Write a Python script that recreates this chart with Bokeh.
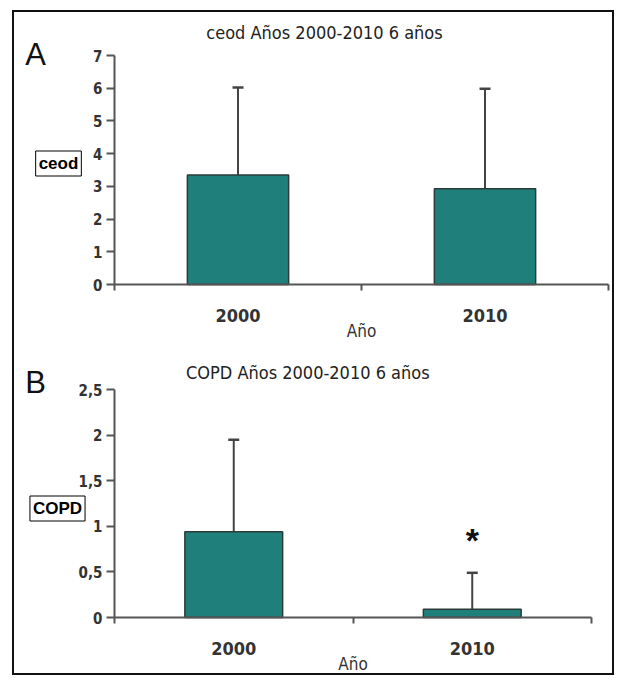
from bokeh.plotting import figure
from bokeh.models import (Range1d, FixedTicker, Label, Whisker, TeeHead,
                          ColumnDataSource, LinearAxis)
from bokeh.layouts import column
from bokeh.embed import file_html
from bokeh.resources import INLINE

# ---- data ----
years = ["2000", "2010"]
ceod_mean = [3.35, 2.93]
ceod_upper = [6.02, 5.98]
copd_mean = [0.94, 0.09]
copd_upper = [1.95, 0.49]
ceod_ticks = [0, 1, 2, 3, 4, 5, 6, 7]
ceod_tick_labels = ["0", "1", "2", "3", "4", "5", "6", "7"]
copd_ticks = [0, 0.5, 1, 1.5, 2, 2.5]
copd_tick_labels = ["0", "0,5", "1", "1,5", "2", "2,5"]
copd_sig = ["", "*"]

BAR = "#1f807b"
AX = "#555555"
TXT = "#333333"
FONT = "DejaVu Sans Condensed, DejaVu Sans"
W = 598


def panel(letter, title, ylabel, means, uppers, ticks, tick_labels, ymax,
          h, box, lab_pos, sig=None):
    # box: plot-area pixel box inside the canvas (left, right, top, bottom)
    L, R, T, B = box
    nx = len(years)
    kx = nx / (R - L)
    ky = ymax / (B - T)
    xr = Range1d(-L * kx, nx + (W - R) * kx)
    yr = Range1d(-(h - B) * ky, ymax + T * ky)

    xc = [i + 0.5 for i in range(nx)]
    src = ColumnDataSource(dict(x=xc, top=means, upper=uppers, lower=means))
    p = figure(width=W, height=h, output_backend="svg", toolbar_location=None,
               x_range=xr, y_range=yr, min_border=0,
               x_axis_location=None, y_axis_location=None,
               background_fill_color="white", border_fill_color="white")
    p.outline_line_color = None
    p.grid.visible = False

    p.vbar(x="x", top="top", width=0.41, source=src, fill_color=BAR,
           line_color="#2b3b3a", line_width=1.5)
    w = Whisker(base="x", upper="upper", lower="lower", source=src,
                line_color="#444444", line_width=2,
                lower_head=None,
                upper_head=TeeHead(size=11, line_color="#444444", line_width=2.5))
    p.add_layout(w)

    xa = LinearAxis(fixed_location=0, bounds=(0, nx))
    xa.ticker = FixedTicker(ticks=xc, minor_ticks=list(range(nx + 1)))
    xa.major_label_overrides = {x: y for x, y in zip(xc, years)}
    xa.major_tick_line_color = None
    xa.major_tick_out = 0
    xa.major_tick_in = 0
    xa.minor_tick_out = 6
    xa.minor_tick_in = 0
    xa.minor_tick_line_color = AX
    xa.minor_tick_line_width = 2
    xa.axis_line_color = AX
    xa.axis_line_width = 2
    xa.major_label_standoff = 18
    xa.major_label_text_font = FONT
    xa.major_label_text_font_style = "bold"
    xa.major_label_text_font_size = "18px"
    xa.major_label_text_color = TXT
    xa.axis_label = "Año"
    xa.axis_label_standoff = -4
    xa.axis_label_text_font = FONT
    xa.axis_label_text_font_style = "normal"
    xa.axis_label_text_font_size = "17px"
    xa.axis_label_text_color = TXT
    p.add_layout(xa, "below")

    ya = LinearAxis(fixed_location=0, bounds=(0, ymax))
    ya.ticker = FixedTicker(ticks=ticks)
    ya.major_label_overrides = {t: l for t, l in zip(ticks, tick_labels)}
    ya.minor_tick_line_color = None
    ya.major_tick_out = 8
    ya.major_tick_in = 0
    ya.major_tick_line_color = AX
    ya.major_tick_line_width = 2
    ya.axis_line_color = AX
    ya.axis_line_width = 2
    ya.major_label_standoff = 4
    ya.major_label_text_font = FONT
    ya.major_label_text_font_style = "bold"
    ya.major_label_text_font_size = "15px"
    ya.major_label_text_color = TXT
    p.add_layout(ya, "left")

    (lx, ly), (tx, ty), (bx, by) = lab_pos
    p.add_layout(Label(x=lx, y=ly, x_units="screen", y_units="screen", text=letter,
                       text_font="Liberation Sans", text_font_size="31px",
                       text_color="#111111", text_align="center",
                       text_baseline="middle"))
    p.add_layout(Label(x=tx, y=ty, x_units="screen", y_units="screen", text=title,
                       text_font=FONT, text_font_size="18px",
                       text_color="#222222", text_align="center",
                       text_baseline="middle"))
    p.add_layout(Label(x=bx, y=by, x_units="screen", y_units="screen", text=ylabel,
                       text_font="Liberation Sans", text_font_style="bold",
                       text_font_size="17px", text_color="black",
                       text_align="center", text_baseline="middle",
                       border_line_color="black", border_line_width=1,
                       background_fill_color="white", padding=3))
    if sig is not None:
        sig_src = ColumnDataSource(dict(x=xc, y=[u + 0.36 for u in uppers], t=sig))
        p.text(x="x", y="y", text="t", source=sig_src, text_align="center",
               text_baseline="middle", text_font_size="34px",
               text_font_style="bold", text_color="#111111")
    return p


pA = panel("A", "ceod Años 2000-2010 6 años", "ceod", ceod_mean, ceod_upper,
           ceod_ticks, ceod_tick_labels, 7,
           h=330, box=(100, 594, 43, 272),
           lab_pos=((21, 288), (310, 310), (44, 179)))
pB = panel("B", "COPD Años   2000-2010 6  años", "COPD", copd_mean, copd_upper,
           copd_ticks, copd_tick_labels, 2.5,
           h=331, box=(100, 577, 47, 275),
           lab_pos=((21, 291), (301, 301), (43, 165)), sig=copd_sig)

layout = column(pA, pB, margin=(10, 0, 0, 12),
                styles={"border": "2px solid #111111", "background-color": "white"})

open("out.html", "w").write(file_html(layout, INLINE))
